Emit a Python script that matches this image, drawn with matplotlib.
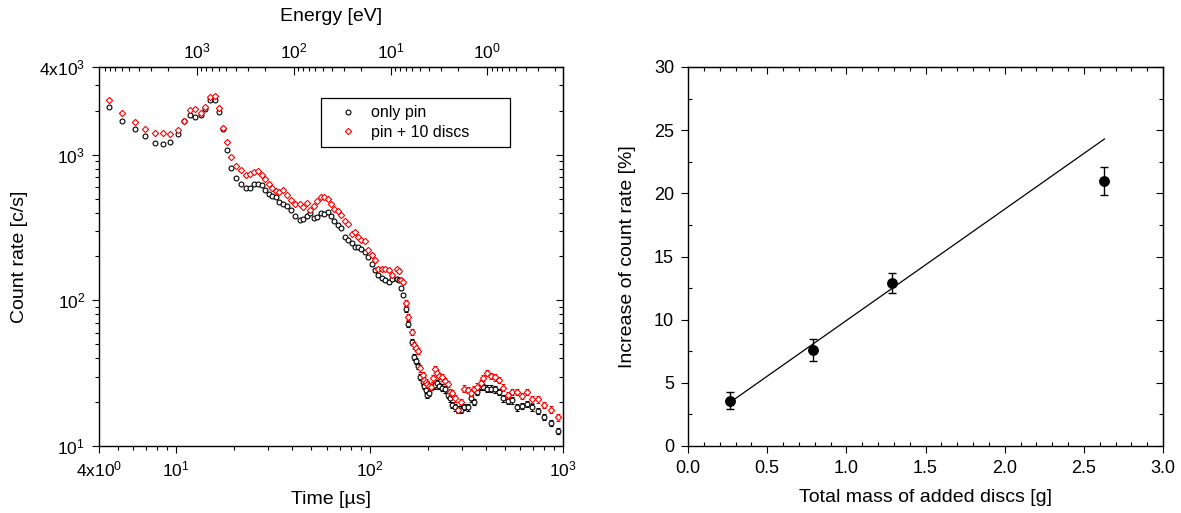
import matplotlib
matplotlib.use("Agg")
import matplotlib.pyplot as plt
import numpy as np
from matplotlib.ticker import LogLocator, NullFormatter, MultipleLocator, FormatStrFormatter
from matplotlib.lines import Line2D

plt.rcParams['font.family'] = ['Liberation Sans', 'DejaVu Sans']
plt.rcParams['mathtext.fontset'] = 'custom'
plt.rcParams['mathtext.rm'] = 'Liberation Sans'
plt.rcParams['mathtext.it'] = 'Liberation Sans'
plt.rcParams['mathtext.default'] = 'regular'

# ---------------- data: left panel (time-of-flight spectrum) ----------------
time_us = [4.49, 5.28, 6.12, 6.94, 7.76, 8.53, 9.34, 10.2, 11.0, 11.8,
           12.6, 13.5, 14.2, 15.0, 15.9, 16.7, 17.5, 18.3, 19.2, 20.5,
           21.7, 22.9, 24.1, 25.4, 26.6, 27.7, 28.8, 30.2, 31.5, 32.8,
           34.1, 35.7, 37.3, 39.2, 41.2, 43.7, 45.5, 47.4, 49.3, 51.7,
           53.7, 56.0, 58.4, 61.2, 63.6, 65.8, 68.5, 71.2, 74.3, 77.7,
           80.9, 84.1, 87.5, 90.9, 94.8, 98.8, 102.6, 106.8, 111.0, 115.6,
           120.2, 125.7, 130.7, 138.2, 142.9, 146.3, 149.5, 154.4, 158.6, 165.2,
           169.8, 173.3, 177.4, 183.4, 187.9, 191.3, 195.2, 198.9, 203.7, 209.1,
           212.9, 218.0, 223.3, 230.0, 236.9, 245.5, 253.6, 260.6, 267.8, 276.6,
           286.6, 297.0, 309.0, 321.7, 334.6, 348.0, 361.5, 376.9, 387.3, 403.3,
           424.5, 445.2, 466.9, 491.4, 517.8, 543.0, 576.4, 611.7, 649.2, 689.0,
           740.0, 800.6, 866.9, 942.1]

rate_pin = [2125, 1703, 1493, 1350, 1202, 1178, 1216, 1380, 1690, 1873,
            1828, 1873, 2069, 2385, 2385, 1954, 1501, 1072, 814, 695,
            626, 593, 593, 626, 626, 619, 569, 539, 520, 512,
            475, 456, 444, 417, 379, 356, 360, 379, 396, 365,
            375, 399, 391, 404, 379, 348, 327, 312, 273, 259,
            246, 231, 231, 224, 215, 198, 177, 161, 149, 142,
            138, 133, 140, 141, 138, 121, 109, 87, 69, 52,
            41, 38.3, 35.4, 29.8, 27.6, 25.8, 24.2, 22.4, 23.2, 25.5,
            26.0, 26.1, 26.9, 25.8, 25.2, 24.5, 22.4, 21.2, 19.1, 18.4,
            17.8, 17.8, 18.6, 18.4, 21.2, 20.1, 23.5, 25.6, 25.5, 24.8,
            24.8, 24.5, 23.5, 21.2, 20.4, 20.6, 18.4, 18.8, 19.4, 18.4,
            17.4, 15.9, 14.4, 12.7]

rate_discs = [2385, 1942, 1684, 1507, 1408, 1415, 1386, 1470, 1711, 2036,
              2069, 1933, 2115, 2477, 2541, 2082, 1524, 1216, 964, 836,
              781, 725, 740, 757, 772, 725, 681, 626, 588, 563,
              557, 569, 528, 486, 456, 458, 439, 463, 417, 444,
              478, 514, 510, 494, 456, 421, 412, 383, 352, 334,
              285, 294, 271, 259, 254, 221, 205, 189, 164, 164,
              164, 161, 149, 163, 159, 138, 133, 96, 77, 61,
              49, 47, 45, 34.1, 30.7, 28.3, 27.6, 26.6, 25.8, 25.5,
              29.1, 33.6, 31.8, 30.2, 29.6, 28.0, 26.6, 23.5, 23.0, 21.2,
              17.6, 20.1, 24.8, 24.2, 23.2, 24.5, 25.6, 27.0, 29.2, 31.8,
              30.2, 29.6, 28.3, 25.2, 22.4, 23.5, 23.5, 22.0, 23.5, 20.9,
              20.9, 19.1, 17.8, 15.7]

# relative statistical uncertainty of each bin
rel_err = [0.015] * 56 + [0.025] * 11 + [0.05] * 47

x_ticks_left = [4, 10, 100, 1000]
x_ticklabels_left = ['4x10$^{0}$', '10$^{1}$', '10$^{2}$', '10$^{3}$']
y_ticks_left = [10, 100, 1000, 4000]
y_ticklabels_left = ['10$^{1}$', '10$^{2}$', '10$^{3}$', '4x10$^{3}$']
energy_ticks = [1e3, 1e2, 1e1, 1e0]
energy_ticklabels = ['10$^{3}$', '10$^{2}$', '10$^{1}$', '10$^{0}$']
tof_constant = 1.65e5  # E[eV] = K / t[us]^2

# ---------------- data: right panel ----------------
mass_g = [0.265, 0.79, 1.29, 2.63]
increase_pct = [3.6, 7.6, 12.9, 21.0]
increase_err = [0.65, 0.9, 0.82, 1.1]
fit_x = [0.265, 2.63]
fit_y = [3.45, 24.3]

# ---------------- figure ----------------
W, H = 1181, 513
fig = plt.figure(figsize=(W / 100, H / 100), dpi=100)

TICK_FS = 12.5
LABEL_FS = 14

# ---- left panel ----
ax1 = fig.add_axes([99 / W, (H - 446) / H, 464 / W, 379 / H])
ax1.set_xscale('log')
ax1.set_yscale('log')

err_pin = [r * e for r, e in zip(rate_pin, rel_err)]
err_discs = [r * e for r, e in zip(rate_discs, rel_err)]

ax1.errorbar(time_us, rate_pin, yerr=err_pin, fmt='o', ms=3.5, mfc='white',
             mec='black', mew=0.8, ecolor='black', elinewidth=0.7,
             capsize=1.6, capthick=0.7, zorder=3)
ax1.errorbar(time_us, rate_discs, yerr=err_discs, fmt='D', ms=3.2, mfc='white',
             mec='red', mew=0.8, ecolor='red', elinewidth=0.7,
             capsize=1.6, capthick=0.7, zorder=4)

ax1.set_xlim(4, 1000)
ax1.set_ylim(10, 4000)

ax1.set_xticks(x_ticks_left)
ax1.set_xticklabels(x_ticklabels_left)
ax1.xaxis.set_minor_locator(LogLocator(base=10, subs=np.arange(2, 10)))
ax1.xaxis.set_minor_formatter(NullFormatter())
ax1.set_yticks(y_ticks_left)
ax1.set_yticklabels(y_ticklabels_left)
ax1.yaxis.set_minor_locator(LogLocator(base=10, subs=np.arange(2, 10)))
ax1.yaxis.set_minor_formatter(NullFormatter())
ax1.tick_params(which='both', direction='out', top=False, right=False,
                labelsize=TICK_FS, width=0.8)
ax1.tick_params(which='major', length=5, pad=5)
ax1.tick_params(which='minor', length=3)

for s in ax1.spines.values():
    s.set_linewidth(1.0)

ax1.set_xlabel('Time [\u00b5s]', fontsize=LABEL_FS, labelpad=8)
ax1.set_ylabel('Count rate [c/s]', fontsize=LABEL_FS, labelpad=8)

# right mirror ticks (inward)
ry = ax1.secondary_yaxis('right')
ry.set_yticks(y_ticks_left)
ry.yaxis.set_minor_locator(LogLocator(base=10, subs=np.arange(2, 10)))
ry.yaxis.set_minor_formatter(NullFormatter())
ry.tick_params(which='both', direction='in', labelright=False, width=0.8)
ry.tick_params(which='major', length=5)
ry.tick_params(which='minor', length=3)


def t2e(t):
    t = np.asarray(t, dtype=float)
    with np.errstate(divide='ignore', invalid='ignore'):
        return tof_constant / np.where(t > 0, t, np.nan) ** 2


def e2t(e):
    e = np.asarray(e, dtype=float)
    with np.errstate(divide='ignore', invalid='ignore'):
        return np.sqrt(tof_constant / np.where(e > 0, e, np.nan))


top = ax1.secondary_xaxis('top', functions=(t2e, e2t))
top.set_xticks(energy_ticks)
top.set_xticklabels(energy_ticklabels)
top.xaxis.set_minor_locator(LogLocator(base=10, subs=np.arange(2, 10)))
top.xaxis.set_minor_formatter(NullFormatter())
top.tick_params(which='both', direction='in', labelsize=TICK_FS, width=0.8)
top.tick_params(which='major', length=6, pad=4)
top.tick_params(which='minor', length=3)
top.set_xlabel('Energy [eV]', fontsize=LABEL_FS, labelpad=15)

handles = [Line2D([], [], ls='none', marker='o', ms=3.5, mfc='white', mec='black', mew=0.8),
           Line2D([], [], ls='none', marker='D', ms=3.2, mfc='white', mec='red', mew=0.8)]
leg = ax1.legend(handles, ['only pin', 'pin + 10 discs'], loc='upper left',
                 bbox_to_anchor=(0.478, 0.5, 0.408, 0.418), mode='expand',
                 fontsize=11.5, frameon=True, fancybox=False, framealpha=1,
                 edgecolor='black', borderpad=0.45, labelspacing=0.3,
                 handlelength=2.5, handletextpad=0.2, borderaxespad=0)
leg.get_frame().set_linewidth(0.9)

# ---- right panel ----
ax2 = fig.add_axes([688 / W, (H - 446) / H, 475 / W, 379 / H])
ax2.plot(fit_x, fit_y, color='black', lw=0.9, zorder=2)
ax2.errorbar(mass_g, increase_pct, yerr=increase_err, fmt='o', color='black',
             ms=6.8, elinewidth=1.0, capsize=3, capthick=1.0, zorder=3)
ax2.set_xlim(0, 3)
ax2.set_ylim(0, 30)
ax2.xaxis.set_major_locator(MultipleLocator(0.5))
ax2.xaxis.set_minor_locator(MultipleLocator(0.1))
ax2.xaxis.set_major_formatter(FormatStrFormatter('%.1f'))
ax2.yaxis.set_major_locator(MultipleLocator(5))
ax2.yaxis.set_minor_locator(MultipleLocator(2.5))
ax2.tick_params(which='both', top=False, right=False, labelsize=13, width=0.8)
ax2.tick_params(which='major', direction='out', length=5, pad=5)
ax2.tick_params(which='minor', direction='in', length=3)
for s in ax2.spines.values():
    s.set_linewidth(1.0)
ax2.set_xlabel('Total mass of added discs [g]', fontsize=LABEL_FS, labelpad=9)
ax2.set_ylabel('Increase of count rate [%]', fontsize=LABEL_FS, labelpad=13)

tx = ax2.secondary_xaxis('top')
tx.xaxis.set_major_locator(MultipleLocator(0.5))
tx.xaxis.set_minor_locator(MultipleLocator(0.1))
tx.tick_params(which='both', direction='in', labeltop=False, width=0.8)
tx.tick_params(which='major', length=5)
tx.tick_params(which='minor', length=3)
ty = ax2.secondary_yaxis('right')
ty.yaxis.set_major_locator(MultipleLocator(5))
ty.yaxis.set_minor_locator(MultipleLocator(2.5))
ty.tick_params(which='both', direction='in', labelright=False, width=0.8)
ty.tick_params(which='major', length=5)
ty.tick_params(which='minor', length=3)

fig.savefig('out.png', dpi=100)
